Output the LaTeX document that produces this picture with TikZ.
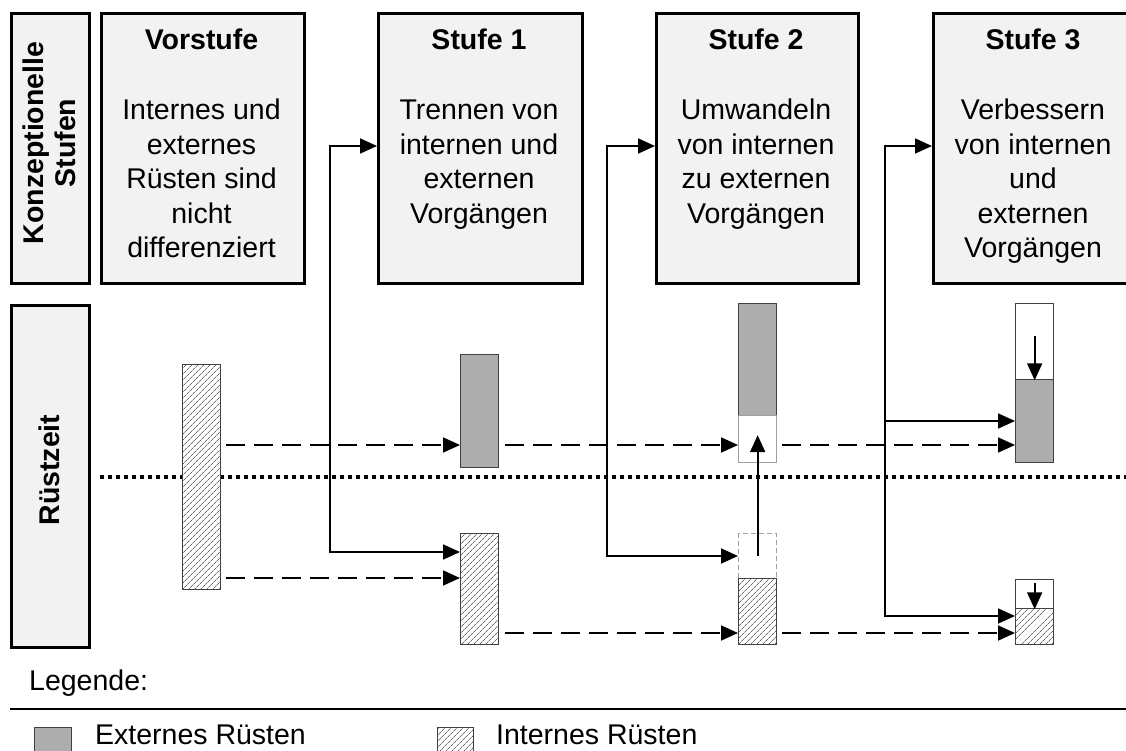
\documentclass[tikz,border=0pt]{standalone}
\usepackage{fontspec}
\setmainfont{Liberation Sans}
\usetikzlibrary{arrows.meta,patterns.meta}
\definecolor{hdrfill}{HTML}{F2F2F2}
\definecolor{extgray}{HTML}{ADADAD}
\definecolor{bardraw}{HTML}{404040}
\definecolor{hatchcol}{HTML}{6A6A6A}
\definecolor{ghost}{HTML}{A0A0A0}
\newcommand\boxtxt[1]{\parbox[t]{200pt}{\centering\fontsize{28.5}{34.5}\selectfont #1}}
\tikzset{
  tri/.tip={Triangle[length=17pt,width=15pt]},
  hdr/.style={draw, line width=2.6pt, fill=hdrfill, inner sep=0pt, anchor=north west},
  bar/.style={draw=bardraw, line width=1.3pt, inner sep=0pt, minimum width=38pt, anchor=north west},
  ext/.style={bar, fill=extgray},
  int/.style={bar, preaction={fill=white}, pattern={Lines[angle=45,distance=4pt,line width=0.8pt]}, pattern color=hatchcol},
  wbox/.style={bar, fill=white},
  lbox/.style={bar, draw=ghost, fill=white},
  dbox/.style={bar, draw=ghost, dash pattern=on 5pt off 3pt},
  conn/.style={line width=1.8pt, -tri},
  biconn/.style={line width=1.8pt, tri-tri},
  dashconn/.style={conn, dash pattern=on 19pt off 9pt},
  ttl/.style={font=\bfseries\fontsize{28.5}{34.5}\selectfont, anchor=base, inner sep=0pt},
  body/.style={anchor=base, inner sep=0pt},
  vlab/.style={font=\bfseries\fontsize{28.5}{32}\selectfont, rotate=90, align=center, inner sep=0pt},
  txt/.style={font=\fontsize{28.5}{34.5}\selectfont, anchor=base west, inner sep=0pt, text depth=0pt}
}
\begin{document}
\begin{tikzpicture}[x=1pt,y=-1pt]
\clip (0,0) rectangle (1126,751);
\fill[white] (0,0) rectangle (1126,751);
% row boxes
\node[hdr, minimum width=78pt, minimum height=270pt] (k) at (10,12) {};
\node[hdr, minimum width=78pt, minimum height=342pt] (r) at (10,304) {};
\node[vlab] (kl) at (49,143) {Konzeptionelle\\Stufen};
\node[vlab] (rl) at (49,470) {Rüstzeit};
% stage boxes
\node[hdr, minimum width=203pt, minimum height=270pt] (v0) at (100,12) {};
\node[hdr, minimum width=204pt, minimum height=270pt] (s1) at (377,12) {};
\node[hdr, minimum width=202pt, minimum height=270pt] (s2) at (655,12) {};
\node[hdr, minimum width=202pt, minimum height=270pt] (s3) at (932,12) {};
\node[ttl] (t0) at (201.5,50) {Vorstufe};
\node[ttl] (t1) at (479,50) {Stufe 1};
\node[ttl] (t2) at (756,50) {Stufe 2};
\node[ttl] (t3) at (1033,50) {Stufe 3};
\node[body] (b0) at (201.5,120) {\boxtxt{Internes und\\externes\\Rüsten sind\\nicht\\differenziert}};
\node[body] (b1) at (479,120) {\boxtxt{Trennen von\\internen und\\externen\\Vorgängen}};
\node[body] (b2) at (756,120) {\boxtxt{Umwandeln\\von internen\\zu externen\\Vorgängen}};
\node[body] (b3) at (1033,120) {\boxtxt{Verbessern\\von internen\\und\\externen\\Vorgängen}};
% dotted separator
\coordinate (dl) at (100,477);
\coordinate (dr) at (1126,477);
\draw[line width=4pt, dash pattern=on 4pt off 4pt] (dl) -- (dr);
% bars
\node[int, minimum height=225pt] (v) at (182,364) {};
\node[ext, minimum height=113pt] (g1) at (460,354) {};
\node[int, minimum height=111pt] (i1) at (460,533) {};
\node[ext, minimum height=112pt] (g2) at (738,303) {};
\node[lbox, minimum height=47pt] (w2) at (738,415) {};
\node[dbox, minimum height=45pt] (d2) at (738,533) {};
\node[int, minimum height=66pt] (i2) at (738,578) {};
\node[wbox, minimum height=76pt] (w3) at (1015,303) {};
\node[ext, minimum height=83pt] (g3) at (1015,379) {};
\node[wbox, minimum height=29pt] (w3b) at (1015,579) {};
\node[int, minimum height=36pt] (i3) at (1015,608) {};
% dashed flows
\draw[dashconn] ([xshift=5pt]v.east |- 0,445) -- (g1.west |- 0,445);
\draw[dashconn] ([xshift=5pt]v.east |- 0,578) -- (i1.west |- 0,578);
\draw[dashconn] ([xshift=6pt]g1.east |- 0,445) -- (w2.west |- 0,445);
\draw[dashconn] ([xshift=6pt]i1.east |- 0,633) -- (i2.west |- 0,633);
\draw[dashconn] ([xshift=5pt]w2.east |- 0,445) -- (g3.west |- 0,445);
\draw[dashconn] ([xshift=5pt]i2.east |- 0,633) -- (i3.west |- 0,633);
% stage transitions
\coordinate (c1t) at (330,146);
\coordinate (c1b) at (330,552);
\draw[biconn] (s1.west |- c1t) -- (c1t) -- (c1b) -- (i1.west |- c1b);
\coordinate (c2t) at (607,146);
\coordinate (c2b) at (607,556);
\draw[biconn] (s2.west |- c2t) -- (c2t) -- (c2b) -- (d2.west |- c2b);
\coordinate (c3t) at (885,146);
\coordinate (c3m) at (885,421);
\coordinate (c3b) at (885,616);
\draw[biconn] (s3.west |- c3t) -- (c3t) -- (c3b) -- (i3.west |- c3b);
\draw[conn] (c3m) -- (g3.west |- c3m);
% movement arrows
\draw[conn] (d2.center) -- ([yshift=4pt]w2.center);
\draw[conn] ([yshift=44pt]w3.south) -- (w3.south);
\draw[conn] ([yshift=-4pt]w3b.north) -- (w3b.south);
% legend
\node[txt] (leg) at (29,690) {Legende:};
\coordinate (ll) at (10,709);
\coordinate (lr) at (1126,709);
\draw[line width=1.6pt] (ll) -- (lr);
\node[ext, minimum width=37pt, minimum height=30pt] (le) at (34,727) {};
\node[txt] (let) at (95,744) {Externes Rüsten};
\node[int, minimum width=36pt, minimum height=30pt] (li) at (437,727) {};
\node[txt] (lit) at (496,744) {Internes Rüsten};
\end{tikzpicture}
\end{document}
